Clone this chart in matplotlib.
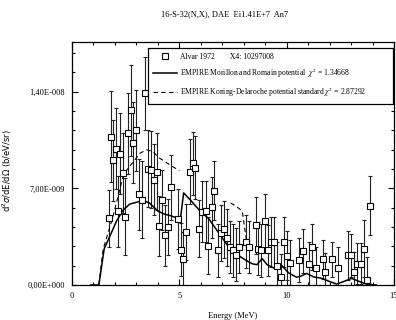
import numpy as np
import matplotlib
matplotlib.use("Agg")
import matplotlib.pyplot as plt
from matplotlib.ticker import MultipleLocator, FuncFormatter

plt.rcParams['font.family'] = ['Liberation Serif', 'DejaVu Serif']
plt.rcParams['mathtext.fontset'] = 'stix'

# experimental data, Alvar 1972 (energy in MeV, cross section in b/eV/sr)
energy = [1.74, 1.84, 1.92, 2.05, 2.14, 2.25, 2.38, 2.49, 2.62, 2.74,
          2.86, 2.98, 3.12, 3.26, 3.39, 3.54, 3.68, 3.81, 3.94, 4.07,
          4.21, 4.35, 4.48, 4.63, 4.92, 5.07, 5.19, 5.33, 5.50, 5.63,
          5.75, 5.93, 6.04, 6.23, 6.35, 6.50, 6.62, 6.79, 6.92, 7.09,
          7.23, 7.36, 7.50, 7.65, 7.79, 8.11, 8.24, 8.56, 8.68, 8.82,
          8.99, 9.13, 9.27, 9.43, 9.57, 9.72, 9.88, 10.01, 10.15, 10.59,
          10.75, 11.02, 11.19, 11.37, 11.67, 11.79, 12.10, 12.41, 12.84, 13.00,
          13.12, 13.27, 13.45, 13.58, 13.73, 13.89]
xs = np.array([4.82, 10.75, 9.04, 9.86, 5.35, 9.51, 8.11, 4.93, 11.00, 12.64,
               10.30, 11.20, 6.58, 6.16, 13.87, 8.43, 8.34, 7.62, 8.21, 4.27,
               6.16, 3.61, 4.20, 7.07, 4.78, 2.57, 1.91, 3.83, 8.19, 8.81,
               8.49, 4.09, 5.31, 5.33, 2.86, 5.62, 6.84, 2.51, 3.76, 4.03,
               3.42, 2.76, 2.51, 2.20, 2.76, 3.14, 2.76, 4.32, 2.64, 2.51,
               4.62, 2.51, 3.10, 3.10, 1.39, 0.61, 3.10, 2.13, 1.59, 1.83,
               2.46, 1.52, 2.76, 1.22, 1.85, 0.93, 1.85, 1.22, 2.15, 2.15,
               0.93, 1.54, 1.54, 2.64, 0.37, 5.74]) * 1e-9
xs_err = np.array([2.05, 3.30, 2.93, 2.93, 2.57, 2.93, 2.93, 2.79, 2.93, 3.30,
                   2.93, 2.93, 2.57, 2.79, 2.64, 2.79, 2.79, 2.57, 2.79, 2.20,
                   2.20, 2.20, 2.05, 2.35, 2.20, 1.91, 1.91, 2.05, 2.35, 2.27,
                   2.27, 2.05, 2.20, 2.20, 2.05, 2.20, 2.13, 1.91, 2.05, 2.05,
                   2.05, 1.91, 1.91, 1.91, 1.91, 1.91, 1.91, 2.05, 1.91, 1.91,
                   1.98, 1.83, 1.83, 1.83, 1.76, 1.61, 1.83, 1.76, 1.69, 1.61,
                   1.61, 1.61, 1.69, 1.54, 1.39, 1.39, 1.25, 1.54, 1.76, 1.54,
                   1.47, 1.47, 1.47, 2.05, 1.69, 2.13]) * 1e-9

# EMPIRE, Morillon and Romain potential
mr_energy = [0.86, 1.25, 1.50, 1.76, 2.07, 2.38, 2.69, 3.00, 3.30, 3.61,
             4.00, 4.31, 4.62, 4.92, 5.05, 5.20, 5.54, 5.93, 6.39, 6.85,
             7.32, 7.69, 8.06, 8.39, 8.61, 8.86, 9.09, 9.48, 9.78, 10.09,
             10.46, 10.69, 10.93, 11.25, 11.62, 11.94, 12.32, 12.64, 13.02, 13.41,
             13.70, 14.17]
mr_xs = np.array([0.0, 0.0, 2.62, 3.52, 4.62, 5.42, 5.86, 5.99, 6.12, 5.94,
                  5.35, 5.13, 5.01, 4.82, 4.76, 6.67, 6.11, 5.42, 4.76, 3.74,
                  2.71, 2.20, 1.83, 1.54, 1.47, 1.91, 1.47, 1.17, 1.39, 0.88,
                  0.56, 0.66, 0.84, 0.59, 0.49, 0.29, 0.07, 0.24, 0.48, 0.24,
                  0.07, 0.0]) * 1e-9

# EMPIRE, Koning-Delaroche potential standard (only partly visible)
kd_energy = [1.25, 1.45, 1.90, 2.41, 2.90, 3.15, 3.47, 3.75, 4.07, 4.54,
             5.00, np.nan, 7.39, 7.64, 7.93, 8.02, 8.12]
kd_xs = np.array([0.0, 2.60, 4.90, 8.06, 9.00, 9.53, 9.79, 9.68, 9.20, 8.72,
                  8.28, np.nan, 5.94, 5.72, 5.35, 4.40, 3.30]) * 1e-9

labels = ['Alvar 1972        X4: 10297008',
          r'EMPIRE Morillon and Romain potential  $\chi^{2}$ = 1.34668',
          r'EMPIRE Koning-Delaroche potential standard $\chi^{2}$ = 2.87292']


def sci_comma(v, pos):
    if v == 0:
        return '0,00E+000'
    e = int(np.floor(np.log10(abs(v))))
    m = v / 10 ** e
    return f'{m:.2f}'.replace('.', ',') + f'E{e:+04d}'


fig = plt.figure(figsize=(3.96, 3.2), dpi=100)
ax = fig.add_axes([72 / 396, 35 / 320, 322 / 396, 243 / 320])

ax.errorbar(energy, xs, yerr=xs_err, fmt='none', ecolor='#222222',
            elinewidth=0.8, capsize=1.6, capthick=0.8, zorder=2)
ax.plot(mr_energy, mr_xs, color='black', lw=1.1, label=labels[1], zorder=3)
ax.plot(kd_energy, kd_xs, color='black', lw=0.8, ls=(0, (4, 3)),
        label=labels[2], zorder=3)
ax.plot(energy, xs, 's', ms=4.2, mfc='white', mec='black', mew=0.8,
        label=labels[0], zorder=4)

ax.set_xlim(0, 15)
ax.set_ylim(0, 1.76e-8)
ax.xaxis.set_major_locator(MultipleLocator(5))
ax.xaxis.set_minor_locator(MultipleLocator(1))
ax.yaxis.set_major_locator(MultipleLocator(7e-9))
ax.yaxis.set_minor_locator(MultipleLocator(1.4e-9))
ax.yaxis.set_major_formatter(FuncFormatter(sci_comma))
ax.tick_params(which='both', direction='in', top=True, right=True,
               labelsize=6, width=0.8)
ax.tick_params(which='major', length=4.5, pad=5)
ax.tick_params(which='minor', length=2.5)
for s in ax.spines.values():
    s.set_linewidth(0.9)

ax.set_xlabel('Energy (MeV)', fontsize=6, labelpad=9)
ax.set_ylabel(r'd$^{2}\sigma$/dE/d$\Omega$ (b/eV/sr)', fontsize=6,
              family='DejaVu Sans', math_fontfamily='dejavusans')
ax.yaxis.set_label_coords(-0.18, 0.47)

fig.text(225 / 396, 1 - 14 / 320, '16-S-32(N,X), DAE  Ei1.41E+7  An7',
         ha='center', va='center', fontsize=6)

h, l = ax.get_legend_handles_labels()
order = [2, 0, 1]
leg = ax.legend([h[i] for i in order], [l[i] for i in order],
                loc='upper left', bbox_to_anchor=(0.236, 0.757, 0.761, 0.218),
                mode='expand', fontsize=5.5, frameon=True, fancybox=False,
                edgecolor='black', framealpha=1, handlelength=3.2,
                handletextpad=0.4, labelspacing=0.75, borderpad=0.6,
                numpoints=1, borderaxespad=0)
leg.get_frame().set_linewidth(0.9)

fig.savefig('out.png', dpi=100)
